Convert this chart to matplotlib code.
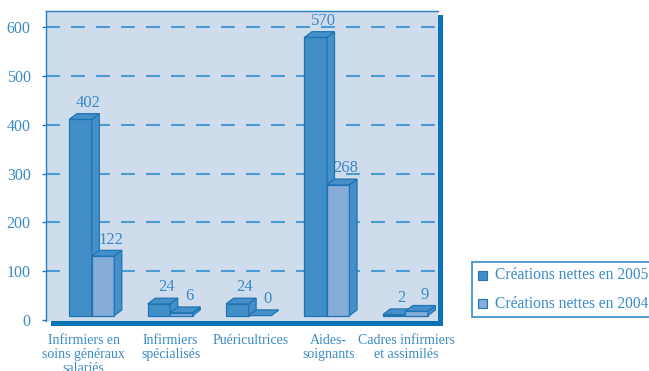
import matplotlib
matplotlib.use("Agg")
import matplotlib.pyplot as plt
from matplotlib.patches import Polygon, Rectangle

plt.rcParams['font.family'] = ['Liberation Serif', 'DejaVu Serif']
plt.rcParams['lines.scale_dashes'] = False

# Data
categories = ["Infirmiers en\nsoins généraux\nsalariés", "Infirmiers\nspécialisés",
              "Puéricultrices", "Aides-\nsoignants", "Cadres infirmiers\net assimilés"]
values_2005 = [402, 24, 24, 570, 2]
values_2004 = [122, 6, 0, 268, 9]
series_names = ["Créations nettes en 2005", "Créations nettes en 2004"]

# Styles
TXT = '#3a8ac6'
C2005 = '#428fc8'
C2004 = '#86add8'
SIDE = '#4590c9'
EDGE = '#1f74b5'
SHADOW = '#0a72b6'
BG = '#cfdcec'

W, H = 649, 371
fig = plt.figure(figsize=(W / 100, H / 100), dpi=100)


def fx(px):
    return px / W


def fy(py):
    return 1 - py / H


ax = fig.add_axes([fx(46), fy(321), fx(438) - fx(46), fy(11) - fy(321)])
ax.set_facecolor(BG)
ax.set_xlim(0, 5)
ax.set_ylim(-2, 633)

# grid
for v in range(100, 601, 100):
    ax.axhline(v, color='#4d9ad2', lw=1.5, ls=(0, (10, 8)), zorder=1)

base = 9          # raised floor of the 3D bars
bw = 0.287        # bar width
dx = 0.096        # depth offset (x)
dy = 11.7         # depth offset (y)


def bar3d(x0, v, front):
    y0, y1 = base, base + v
    if v > 0:
        ax.add_patch(Rectangle((x0, y0), bw, v, facecolor=front, edgecolor=EDGE, lw=0.9, zorder=3))
    # side
    ax.add_patch(Polygon([(x0 + bw, y0), (x0 + bw + dx, y0 + dy), (x0 + bw + dx, y1 + dy), (x0 + bw, y1)],
                         closed=True, facecolor=SIDE, edgecolor=EDGE, lw=0.9, zorder=3))
    # top
    ax.add_patch(Polygon([(x0, y1), (x0 + dx, y1 + dy), (x0 + bw + dx, y1 + dy), (x0 + bw, y1)],
                         closed=True, facecolor=SIDE, edgecolor=EDGE, lw=0.9, zorder=3))
    ax.text(x0 + bw / 2 + dx, y1 + dy + 14, str(v), ha='center', va='baseline',
            color=TXT, fontsize=12, zorder=4)


for i, (a, b) in enumerate(zip(values_2005, values_2004)):
    x0 = i + 0.297
    bar3d(x0, a, C2005)
    bar3d(x0 + bw, b, C2004)

# axes styling
ax.set_yticks(range(0, 601, 100))
ax.tick_params(axis='y', length=3, width=1, color=EDGE, pad=8, labelsize=11.5, labelcolor=TXT)
label_pos = [0.48, 1.59, 2.61, 3.60, 4.60]
ax.set_xticks(label_pos)
ax.set_xticklabels(categories, fontsize=10, color=TXT, linespacing=1.15)
ax.tick_params(axis='x', length=0, pad=9)
for s in ['left', 'top']:
    ax.spines[s].set_color('#2a7fc0')
    ax.spines[s].set_linewidth(1)
for s in ['right', 'bottom']:
    ax.spines[s].set_visible(False)

# shadow frame
fig.add_artist(Rectangle((fx(438), fy(326)), fx(443) - fx(438), fy(15) - fy(326),
                         transform=fig.transFigure, facecolor=SHADOW, edgecolor='none'))
fig.add_artist(Rectangle((fx(51), fy(326)), fx(443) - fx(51), fy(320.5) - fy(326),
                         transform=fig.transFigure, facecolor=SHADOW, edgecolor='none'))

# legend box (runs past the right edge)
fig.add_artist(Rectangle((fx(472), fy(317)), fx(670) - fx(472), fy(262) - fy(317),
                         transform=fig.transFigure, facecolor='white', edgecolor='#3a8ac6', lw=1.2))
for k, (name, col) in enumerate(zip(series_names, [C2005, C2004])):
    yc = 275 + k * 28.5
    fig.add_artist(Rectangle((fx(478), fy(yc + 4.5)), fx(487) - fx(478), fy(yc - 4.5) - fy(yc + 4.5),
                             transform=fig.transFigure, facecolor=col, edgecolor=EDGE, lw=0.8))
    fig.text(fx(495), fy(yc), name, ha='left', va='center', fontsize=11.2, color=TXT)

fig.savefig('out.png', dpi=100)
